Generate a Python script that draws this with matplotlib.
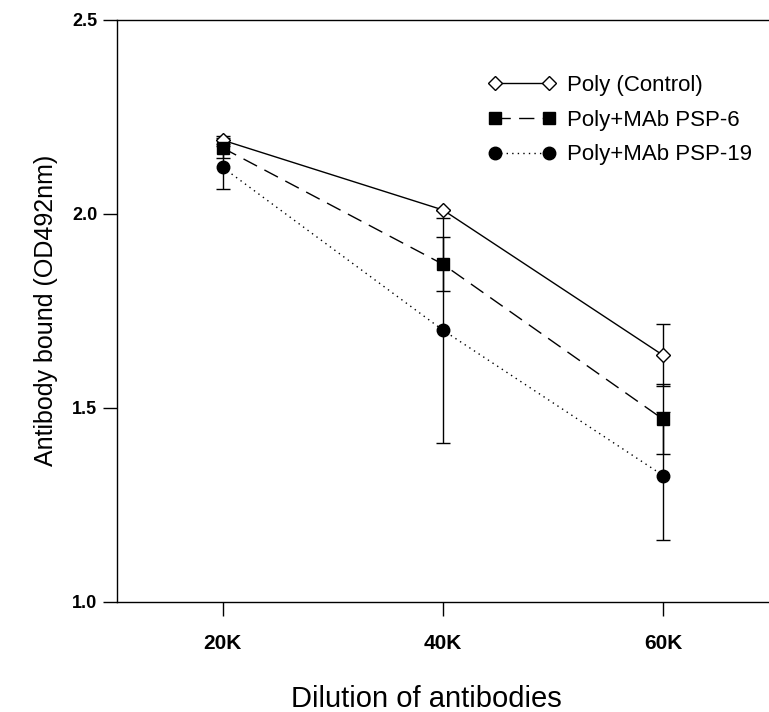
import matplotlib
matplotlib.use("Agg")
import matplotlib.pyplot as plt

plt.rcParams["font.family"] = ["Liberation Sans", "DejaVu Sans"]

# data
dilution = [20, 40, 60]
dilution_labels = ["20K", "40K", "60K"]

poly_ctrl = [2.19, 2.01, 1.635]
poly_ctrl_err = [0.01, 0.0, 0.08]

psp6 = [2.17, 1.87, 1.47]
psp6_err = [0.025, 0.07, 0.09]

psp19 = [2.12, 1.70, 1.325]
psp19_err = [0.055, 0.29, 0.165]

fig = plt.figure(figsize=(7.69, 7.12), dpi=100)
ax = fig.add_axes([0.152, 0.155, 0.848, 0.817])

# error bars first (solid, black)
for y, e in [(poly_ctrl, poly_ctrl_err), (psp6, psp6_err), (psp19, psp19_err)]:
    ax.errorbar(dilution, y, yerr=e, fmt="none", ecolor="black",
                elinewidth=1.0, capsize=5, capthick=1.0, zorder=2)

ax.plot(dilution, poly_ctrl, color="black", lw=1.0, ls="-",
        marker="D", markersize=7, markerfacecolor="white",
        markeredgecolor="black", markeredgewidth=1.0,
        label="Poly (Control)", zorder=4)
ax.plot(dilution, psp6, color="black", lw=1.0, ls=(0, (11, 6)),
        marker="s", markersize=8, markerfacecolor="black",
        markeredgecolor="black", label="Poly+MAb PSP-6", zorder=4)
ax.plot(dilution, psp19, color="black", lw=1.0, ls=(0, (1, 3)),
        marker="o", markersize=9, markerfacecolor="black",
        markeredgecolor="black", label="Poly+MAb PSP-19", zorder=4)

ax.set_xlim(10.4, 69.6)
ax.set_ylim(1.0, 2.5)
ax.set_xticks(dilution)
ax.set_xticklabels(dilution_labels)
ax.set_yticks([1.0, 1.5, 2.0, 2.5])
ax.set_yticklabels(["1.0", "1.5", "2.0", "2.5"])

ax.spines["right"].set_visible(False)
for s in ["left", "bottom", "top"]:
    ax.spines[s].set_linewidth(1.0)

ax.tick_params(axis="both", direction="out", length=10, width=1.0)
ax.tick_params(axis="x", pad=13)
ax.tick_params(axis="y", pad=4)
for lab in ax.get_xticklabels():
    lab.set_fontsize(15)
    lab.set_fontweight("bold")
for lab in ax.get_yticklabels():
    lab.set_fontsize(13)
    lab.set_fontweight("bold")

ax.set_ylabel("Antibody bound (OD492nm)", fontsize=18, labelpad=10)
ax.set_xlabel("Dilution of antibodies", fontsize=21)
ax.xaxis.set_label_coords(0.475, -0.143)

ax.legend(loc="upper right", bbox_to_anchor=(1.004, 0.94), frameon=False,
          numpoints=2, handlelength=3.0, handletextpad=0.5,
          labelspacing=0.62, prop={"size": 16})

fig.savefig("out.png", dpi=100)
